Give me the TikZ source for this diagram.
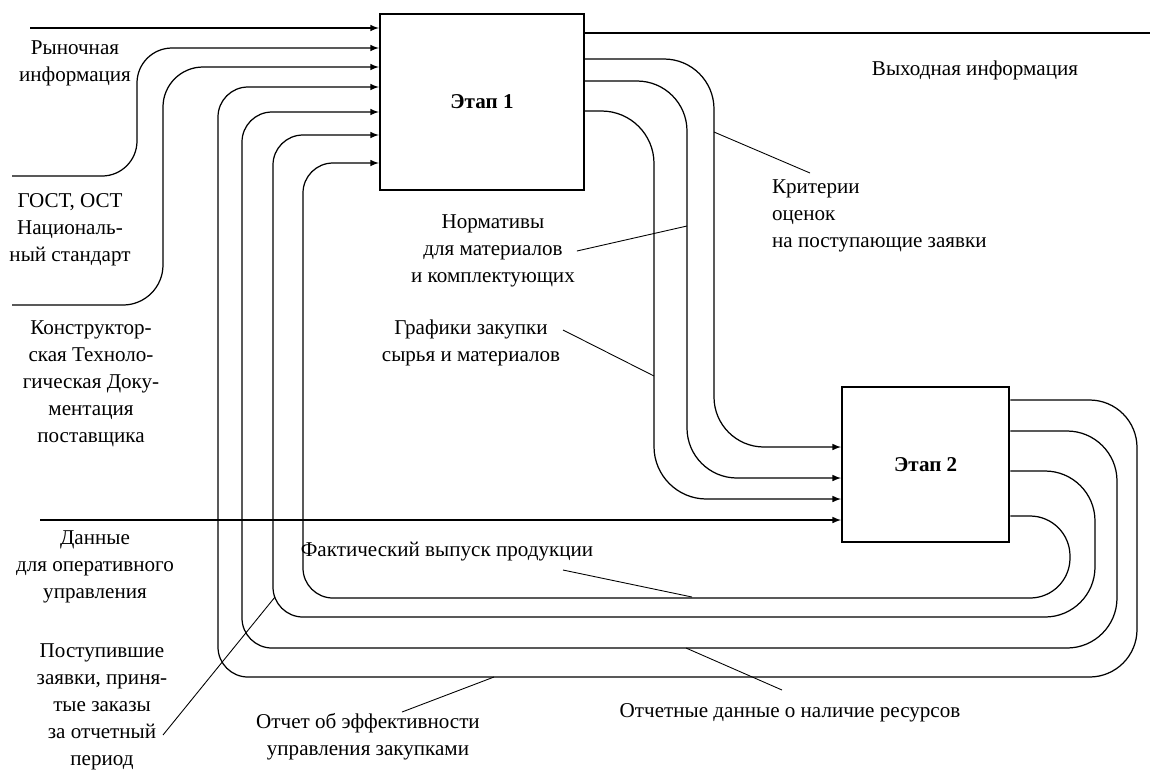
\documentclass[tikz,border=0pt]{standalone}
\usepackage{fontspec}
\setmainfont{Liberation Serif}
\usetikzlibrary{positioning,arrows}

\begin{document}
\begin{tikzpicture}[x=0.02cm, y=-0.02cm,
    stage/.style={draw, line width=1.3pt, inner sep=0pt, font=\bfseries\fontsize{12}{14}\selectfont},
    flow/.style={line width=0.7pt},
    lead/.style={line width=0.5pt},
    lbl/.style={align=center, inner sep=1pt, font=\fontsize{12}{15.4}\selectfont}]
    \useasboundingbox (0,0) rectangle (1150,769);

    % Stages
    \node (box1) [stage, minimum width=4.08cm, minimum height=3.52cm] at (482,102) {Этап 1};
    \node (box2) [stage, minimum width=3.34cm, minimum height=3.1cm, below right=3.9cm and 5.12cm of box1] {Этап 2};

    % Free ends
    \coordinate (s1) at (30,28);
    \coordinate (s2) at (12,176);
    \coordinate (s3) at (12,305);
    \coordinate (s8) at (40,520);
    \coordinate (out) at (1150,33);

    % Inputs of stage 1
    \draw[flow,-latex] (s1) -- (box1.west |- s1);
    \draw[flow,-latex,rounded corners=0.7cm] (s2) -- (137,176) -- (137,48) -- (box1.west |- 0,48);
    \draw[flow,-latex,rounded corners=0.8cm] (s3) -- (163,305) -- (163,67) -- (box1.west |- 0,67);

    % Feedback loops from stage 2 back to stage 1
    \draw[flow,-latex] (box2.east |- 0,400) [rounded corners=0.95cm] -- (1137,400) -- (1137,677)
        [rounded corners=0.6cm] -- (218,677) -- (218,87) -- (box1.west |- 0,87);
    \draw[flow,-latex] (box2.east |- 0,431) [rounded corners=1cm] -- (1117,431) -- (1117,648)
        [rounded corners=0.6cm] -- (242,648) -- (242,112) -- (box1.west |- 0,112);
    \draw[flow,-latex] (box2.east |- 0,471) [rounded corners=1cm] -- (1095,471) -- (1095,617)
        [rounded corners=0.6cm] -- (273,617) -- (273,135) -- (box1.west |- 0,135);
    \draw[flow,-latex] (box2.east |- 0,516) [rounded corners=0.8cm] -- (1070,516) -- (1070,598)
        [rounded corners=0.6cm] -- (303,598) -- (303,163) -- (box1.west |- 0,163);

    % Stage 1 to stage 2
    \draw[flow,-latex,rounded corners=1cm] (box1.east |- 0,59) -- (714,59) -- (714,447) -- (box2.west |- 0,447);
    \draw[flow,-latex,rounded corners=1cm] (box1.east |- 0,81) -- (687,81) -- (687,478) -- (box2.west |- 0,478);
    \draw[flow,-latex,rounded corners=1.05cm] (box1.east |- 0,111) -- (654,111) -- (654,499) -- (box2.west |- 0,499);
    \draw[flow,-latex] (s8) -- (box2.west |- s8);
    \draw[flow] (box1.east |- out) -- (out);

    % Labels
    \node (rynok) [lbl] at (75,63) {Рыночная\\информация};
    \node (gost) [lbl] at (70,230) {ГОСТ, ОСТ\\Националь-\\ный стандарт};
    \node (konstr) [lbl] at (91,384) {Конструктор-\\ская Техноло-\\гическая Доку-\\ментация\\поставщика};
    \node (dannye) [lbl] at (95,567) {Данные\\для оперативного\\управления};
    \node (postup) [lbl] at (102,707) {Поступившие\\заявки, приня-\\тые заказы\\за отчетный\\период};
    \node (vyhod) [lbl] at (975,70) {Выходная информация};
    \node (kriter) [lbl, align=left, anchor=west] at (770,216) {Критерии\\оценок\\на поступающие заявки};
    \node (norm) [lbl] at (493,251) {Нормативы\\для материалов\\и комплектующих};
    \node (grafik) [lbl] at (471,343) {Графики закупки\\сырья и материалов};
    \node (fakt) [lbl] at (447,552) {Фактический выпуск продукции};
    \node (otcheff) [lbl] at (368,737) {Отчет об эффективности\\управления закупками};
    \node (otchres) [lbl] at (790,713) {Отчетные данные о наличие ресурсов};

    % Leader lines
    \coordinate (k1) at (714,132);  \coordinate (k2) at (810,173);
    \coordinate (n1) at (687,226);
    \coordinate (g1) at (563,330);  \coordinate (g2) at (654,376);
    \coordinate (f1) at (563,570);  \coordinate (f2) at (692,597);
    \coordinate (r1) at (686,648);  \coordinate (r2) at (782,690);
    \coordinate (e1) at (494,677);  \coordinate (e2) at (402,712);
    \coordinate (p1) at (275,597);  \coordinate (p2) at (163,735);
    \draw[lead] (k1) -- (k2);
    \draw[lead] (n1) -- (norm.east);
    \draw[lead] (g1) -- (g2);
    \draw[lead] (f1) -- (f2);
    \draw[lead] (r1) -- (r2);
    \draw[lead] (e1) -- (e2);
    \draw[lead] (p1) -- (p2);
\end{tikzpicture}
\end{document}
